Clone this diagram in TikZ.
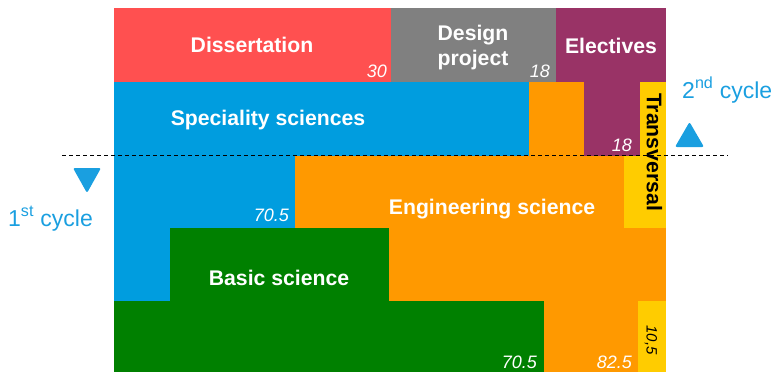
\documentclass[tikz,border=0pt]{standalone}
\usepackage{fontspec}
\setmainfont{Liberation Sans}
\definecolor{cred}{HTML}{FF5050}
\definecolor{cgray}{HTML}{808080}
\definecolor{cpurple}{HTML}{993366}
\definecolor{cblue}{HTML}{009DDF}
\definecolor{corange}{HTML}{FF9900}
\definecolor{cyellow}{HTML}{FFCC00}
\definecolor{cgreen}{HTML}{008000}
\definecolor{ccyc}{HTML}{1A9FE0}
\tikzset{
  blocklabel/.style={inner sep=0pt, anchor=base, text=white, font=\fontsize{21.2}{25}\selectfont\bfseries},
  numlabel/.style={inner sep=0pt, anchor=base east, text=white, font=\fontsize{18}{20}\selectfont\itshape},
  cyclabel/.style={inner sep=0pt, anchor=base west, text=ccyc, font=\fontsize{23}{25}\selectfont},
  cyctri/.style={fill=ccyc, rounded corners=2pt},
}
\begin{document}
\begin{tikzpicture}[x=1pt,y=-1pt]
\useasboundingbox (0,0) rectangle (775,372);
% row 1
\fill[cred] (114,8) rectangle (391,81.5);
\fill[cgray] (391,8) rectangle (556,81.5);
\fill[cpurple] (556,8) rectangle (666,81.5);
% row 2
\fill[cblue] (114,81.5) rectangle (529,155.5);
\fill[corange] (529,81.5) rectangle (584,155.5);
\fill[cpurple] (584,81.5) rectangle (640,155.5);
\fill[cyellow] (640,81.5) rectangle (666,155.5);
% row 3
\fill[cblue] (114,155.5) rectangle (295,228);
\fill[corange] (295,155.5) rectangle (624,228);
\fill[cyellow] (624,155.5) rectangle (666,228);
% row 4
\fill[cblue] (114,228) rectangle (170,300.5);
\fill[cgreen] (170,228) rectangle (389,300.5);
\fill[corange] (389,228) rectangle (666,300.5);
% row 5
\fill[cgreen] (114,300.5) rectangle (544,372);
\fill[corange] (544,300.5) rectangle (638,372);
\fill[cyellow] (638,300.5) rectangle (666,372);
% dashed cycle boundary
\coordinate (dl) at (62,155.5);
\coordinate (dr) at (728,155.5);
\draw[line width=0.9pt, dash pattern=on 4pt off 3pt] (dl) -- (dr);
% block labels
\node[blocklabel] (diss) at (252,52.5) {Dissertation};
\node[blocklabel] (des1) at (473,40.7) {Design};
\node[blocklabel] (des2) at (473,65.7) {project};
\node[blocklabel] (elec) at (611,53) {Electives};
\node[blocklabel] (spec) at (268,125.5) {Speciality sciences};
\node[blocklabel] (eng) at (492,214.5) {Engineering science};
\node[blocklabel] (basic) at (279,285.5) {Basic science};
\node[inner sep=0pt, anchor=center, rotate=-90, text=black, font=\fontsize{21.2}{25}\selectfont\bfseries] (trans) at (654.5,152) {Transversal};
% numbers
\node[numlabel] (n30) at (387,77) {30};
\node[numlabel] (n18a) at (550,77) {18};
\node[numlabel] (n18b) at (632,151) {18};
\node[numlabel] (n705a) at (289,221) {70.5};
\node[numlabel] (n705b) at (537,368) {70.5};
\node[numlabel] (n825) at (632,368) {82.5};
\node[inner sep=0pt, anchor=center, rotate=-90, text=black, font=\fontsize{15}{17}\selectfont\itshape] (n105) at (651,340) {10,5};
% cycles
\node[cyclabel] (c2) at (682,98) {2\textsuperscript{nd} cycle};
\node[cyclabel] (c1) at (8,226) {1\textsuperscript{st} cycle};
\fill[cyctri] (675,147) -- (689.5,122) -- (704,147) -- cycle;
\fill[cyctri] (73,168) -- (101,168) -- (87,193) -- cycle;
\end{tikzpicture}
\end{document}
